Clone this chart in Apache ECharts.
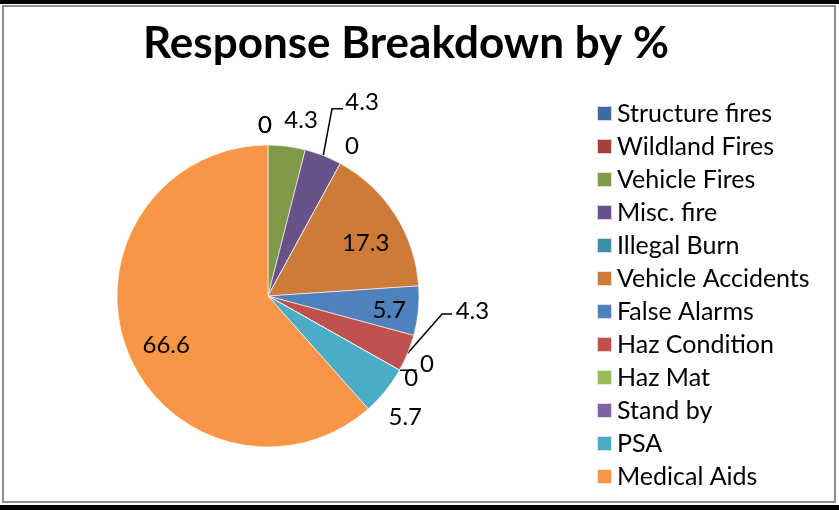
<!DOCTYPE html>
<html>
<head>
<meta charset="utf-8">
<script src="https://cdn.jsdelivr.net/npm/echarts@6/dist/echarts.min.js"></script>
<style>
  html, body { margin: 0; padding: 0; background: #ffffff; }
  #chart { width: 839px; height: 510px; }
</style>
</head>
<body>
<div id="chart"></div>
<script>
// Response categories and their share of calls (%)
const categories = [
  'Structure fires', 'Wildland Fires', 'Vehicle Fires', 'Misc. fire',
  'Illegal Burn', 'Vehicle Accidents', 'False Alarms', 'Haz Condition',
  'Haz Mat', 'Stand by', 'PSA', 'Medical Aids'
];
const percentages = [0, 0, 4.3, 4.3, 0, 17.3, 5.7, 4.3, 0, 0, 5.7, 66.6];
const sliceColors = [
  '#3D6BA1', '#A5403D', '#7F9A48', '#69518A', '#3A8FA6', '#CD7B38',
  '#4F81BD', '#C0504D', '#9BBB59', '#8064A2', '#4BACC6', '#F79646'
];
const chartTitle = 'Response Breakdown by %';

const FONT = 'Lato, "Open Sans", sans-serif';

// Where each value label sits, relative to its slice: "rim" is the distance
// beyond (+) or inside (-) the pie edge, "turn" a rotation in degrees away from
// the slice's middle. Callouts get an elbowed leader line.
const labelSpots = [
  { rim: 20, turn: -1 },
  { rim: 20, turn: -1 },
  { rim: 28, turn: 3.5 },
  { rim: 64, turn: 4.5, elbow: { rim: 47, turn: -2.6, arm: 11 } },
  { rim: 21, turn: 0.6 },
  { rim: -40, turn: 4.2 },
  { rim: -29, turn: 0.9 },
  { rim: 54, turn: -18.1, elbow: { rim: 24, turn: -16.4, arm: 10 } },
  { rim: 22, turn: -6.2 },
  { rim: 14, turn: 0.4, elbow: { rim: 0, turn: 0, arm: 17 } },
  { rim: 32, turn: 2.5 },
  { rim: -38, turn: -4.9 }
];

const chart = echarts.init(document.getElementById('chart'), null, { renderer: 'canvas' });

// Geometry of a slice as laid out by the pie series
function sliceGeometry(i) {
  const lay = chart.getModel().getSeriesByIndex(0).getData().getItemLayout(i);
  return { cx: lay.cx, cy: lay.cy, r: lay.r, mid: (lay.startAngle + lay.endAngle) / 2 };
}
function aroundSlice(g, rim, turnDeg) {
  const a = g.mid + turnDeg * Math.PI / 180;
  const d = g.r + rim;
  return [g.cx + d * Math.cos(a), g.cy + d * Math.sin(a)];
}

const pieData = categories.map((name, i) => ({
  name: name,
  value: percentages[i],
  itemStyle: { color: sliceColors[i] },
  labelLine: { show: !!labelSpots[i].elbow }
}));

const option = {
  animation: false,
  backgroundColor: '#ffffff',
  title: {
    text: chartTitle,
    left: 143,
    top: 22,
    padding: 0,
    textStyle: { fontFamily: FONT, fontWeight: 'bold', fontSize: 44, color: '#000000' }
  },
  legend: {
    orient: 'vertical',
    left: 596,
    top: 101,
    padding: 0,
    itemWidth: 15,
    itemHeight: 15,
    itemGap: 8,
    icon: 'rect',
    selectedMode: false,
    data: categories,
    textStyle: { fontFamily: FONT, fontSize: 25, color: '#000000' }
  },
  graphic: [
    { type: 'rect', silent: true, shape: { x: 0, y: 0, width: 839, height: 4 }, style: { fill: '#000000' } },
    { type: 'rect', silent: true, shape: { x: 0, y: 505, width: 839, height: 5 }, style: { fill: '#000000' } },
    { type: 'rect', silent: true, shape: { x: 3, y: 6, width: 832, height: 496 },
      style: { fill: 'none', stroke: '#8e8e8e', lineWidth: 2 } }
  ],
  series: [{
    type: 'pie',
    center: [268, 296],
    radius: 151,
    startAngle: 90,
    clockwise: true,
    avoidLabelOverlap: false,
    silent: true,
    data: pieData,
    itemStyle: { borderColor: 'rgba(255,255,255,0.75)', borderWidth: 0.8 },
    label: {
      show: true,
      position: 'outside',
      formatter: '{c}',
      fontFamily: FONT,
      fontSize: 24,
      color: '#000000'
    },
    labelLine: { length: 10, length2: 10, lineStyle: { color: '#000000', width: 1.5 } },
    labelLayout: function (p) {
      const spot = labelSpots[p.dataIndex];
      const g = sliceGeometry(p.dataIndex);
      const pos = aroundSlice(g, spot.rim, spot.turn);
      const out = { x: pos[0], y: pos[1], align: 'center', verticalAlign: 'middle' };
      if (spot.elbow) {
        const p1 = aroundSlice(g, 0, 0);
        const p2 = aroundSlice(g, spot.elbow.rim, spot.elbow.turn);
        const side = p2[0] >= g.cx ? 1 : -1;
        out.labelLinePoints = [p1, p2, [p2[0] + side * spot.elbow.arm, p2[1]]];
      }
      return out;
    },
    emphasis: { disabled: true }
  }]
};

chart.setOption(option);
</script>
</body>
</html>
